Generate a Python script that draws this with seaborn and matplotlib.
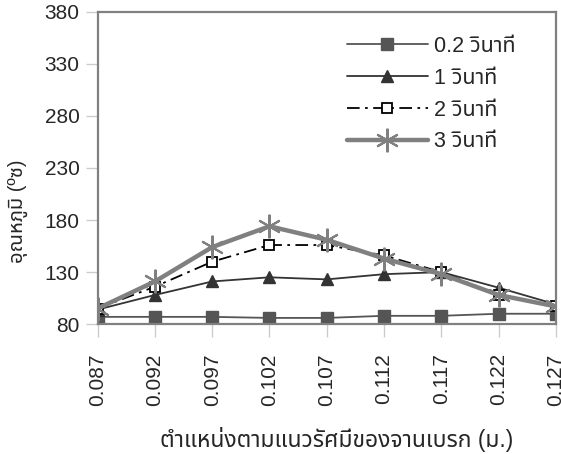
import matplotlib
matplotlib.use("Agg")
import matplotlib.pyplot as plt
from matplotlib import font_manager
from matplotlib.ft2font import FT2Font
import pandas as pd
import seaborn as sns

positions = ["0.087", "0.092", "0.097", "0.102", "0.107", "0.112", "0.117", "0.122", "0.127"]
t_02 = [87, 87, 87, 86, 86, 88, 88, 90, 90]
t_1 = [94, 108, 121, 125, 123, 128, 130, 115, 99]
t_2 = [95, 116, 140, 156, 156, 146, 130, 108, 97]
t_3 = [95, 121, 154, 174, 161, 143, 128, 108, 97]
series_names = ["0.2 วินาที", "1 วินาที", "2 วินาที", "3 วินาที"]
y_ticks = [80, 130, 180, 230, 280, 330, 380]
x_label = "ตำแหน่งตามแนวรัศมีของจานเบรก (ม.)"
y_label = "อุณหภูมิ (ºซ)"


def find_thai_font():
    probe = ord("ว")
    names = []
    for f in font_manager.fontManager.ttflist:
        try:
            if probe in FT2Font(f.fname).get_charmap():
                names.append(f.name)
        except Exception:
            pass
    for pref in ["Noto Sans Thai", "Loma", "Garuda", "Norasi", "DejaVu Sans"]:
        if pref in names:
            return pref
    return names[0] if names else "DejaVu Sans"


sns.set_style("white")
thai = find_thai_font()
plt.rcParams["font.family"] = ["Liberation Sans", thai, "DejaVu Sans"]

fig = plt.figure(figsize=(5.61, 4.54), dpi=100)
ax = fig.add_axes([0.174, 0.286, 0.817, 0.688])

styles = [
    dict(color="#555555", lw=1.3, ls="-", marker="s", ms=8, mfc="#555555", mec="#555555"),
    dict(color="#333333", lw=1.3, ls="-", marker="^", ms=9, mfc="#333333", mec="#333333"),
    dict(color="#000000", lw=1.3, ls=(0, (7, 3, 1.5, 3)), marker="s", ms=7,
         mfc="white", mec="#000000", mew=1.3),
    dict(color="#808080", lw=3.2, ls="-", marker=(6, 2, 0), ms=17, mfc="#808080",
         mec="#808080", mew=1.5),
]

for name, vals, st in zip(series_names, [t_02, t_1, t_2, t_3], styles):
    df = pd.DataFrame({"pos": positions, "temp": vals})
    sns.lineplot(data=df, x="pos", y="temp", ax=ax, label=name, sort=False,
                 color=st["color"], lw=st["lw"], linestyle=st["ls"],
                 marker=st["marker"], markersize=st["ms"],
                 markerfacecolor=st["mfc"], markeredgecolor=st["mec"],
                 markeredgewidth=st.get("mew", 1.0))

ax.set_xlim(0, len(positions) - 1)
ax.set_ylim(80, 380)
ax.set_yticks(y_ticks)
ax.set_yticklabels([str(v) for v in y_ticks], fontsize=15)
ax.set_xticks(range(len(positions)))
ax.set_xticklabels(positions, rotation=90, fontsize=15)
ax.tick_params(axis="both", which="both", length=9, width=1, color="#cccccc",
               direction="out", bottom=True, left=True, pad=4)
ax.tick_params(axis="x", pad=12)

for sp in ax.spines.values():
    sp.set_color("#808080")
    sp.set_linewidth(1.6)

ax.set_xlabel(x_label, fontsize=16.5)
ax.set_ylabel(y_label, fontsize=14.5)
# label centres in figure pixels
ax.xaxis.set_label_coords(337 / 561, 1 - 440 / 454, transform=fig.transFigure)
ax.yaxis.set_label_coords(18 / 561, 1 - 211 / 454, transform=fig.transFigure)
ax.xaxis.label.set_va("center")
ax.yaxis.label.set_va("center")

leg = ax.legend(loc="upper left", bbox_to_anchor=(0.525, 0.95), frameon=False,
                fontsize=15.5, handlelength=3.75, handletextpad=0.3, labelspacing=0.5,
                borderaxespad=0)

fig.savefig("out.png", dpi=100)
